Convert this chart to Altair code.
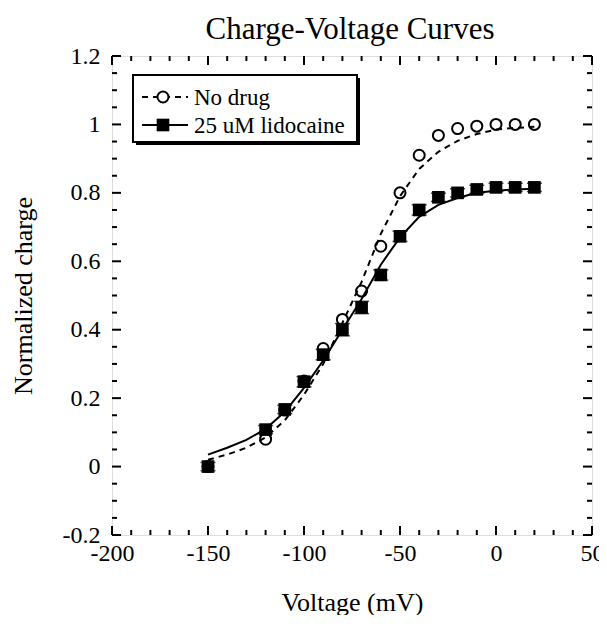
import altair as alt
import pandas as pd

# ---------------- data ----------------
voltage = [-150, -120, -110, -100, -90, -80, -70, -60, -50, -40, -30, -20, -10, 0, 10, 20]
q_no_drug = [0.0, 0.08, 0.165, 0.25, 0.345, 0.43, 0.513, 0.644, 0.80, 0.91, 0.968, 0.988, 0.995, 1.0, 1.0, 1.0]
q_lido = [0.0, 0.108, 0.167, 0.248, 0.327, 0.40, 0.465, 0.56, 0.673, 0.75, 0.787, 0.80, 0.81, 0.816, 0.816, 0.816]
q_lido_err = [0.012, 0.012, 0.012, 0.015, 0.015, 0.018, 0.018, 0.015, 0.015, 0.015, 0.012, 0.012, 0.012, 0.012, 0.012, 0.012]

fit_voltage = [-150, -140, -130, -120, -110, -100, -90, -80, -70, -60, -50, -40, -30, -20, -10, 0, 10, 20]
fit_no_drug = [0.02, 0.035, 0.055, 0.085, 0.135, 0.21, 0.30, 0.42, 0.54, 0.68, 0.79, 0.87, 0.92, 0.952, 0.972, 0.985, 0.99, 0.993]
fit_lido = [0.035, 0.055, 0.078, 0.11, 0.16, 0.23, 0.31, 0.40, 0.49, 0.59, 0.67, 0.73, 0.765, 0.785, 0.80, 0.806, 0.81, 0.812]

legend_labels = ["No drug", "25 uM lidocaine"]
title_text = "Charge-Voltage Curves"

x_major = [-200, -150, -100, -50, 0, 50]
x_minor = [-190, -180, -170, -160, -140, -130, -120, -110, -90, -80, -70, -60,
           -40, -30, -20, -10, 10, 20, 30, 40]
y_major = [-0.2, 0.0, 0.2, 0.4, 0.6, 0.8, 1.0, 1.2]
y_minor = [-0.15, -0.1, -0.05, 0.05, 0.1, 0.15, 0.25, 0.3, 0.35, 0.45, 0.5, 0.55,
           0.65, 0.7, 0.75, 0.85, 0.9, 0.95, 1.05, 1.1, 1.15]

FONT = "Liberation Serif"
W, H = 480, 479
MAJ, MIN = 9, 5

pts = pd.DataFrame({"V": voltage, "q0": q_no_drug, "q1": q_lido,
                    "lo": [a - e for a, e in zip(q_lido, q_lido_err)],
                    "hi": [a + e for a, e in zip(q_lido, q_lido_err)]})
fit = pd.DataFrame({"V": fit_voltage, "f0": fit_no_drug, "f1": fit_lido})

xs = alt.Scale(domain=[-200, 50], nice=False, zero=False)
ys = alt.Scale(domain=[-0.2, 1.2], nice=False, zero=False)

lab_expr = "datum.value < 0 ? '-' + format(-datum.value, '~g') : format(datum.value, '~g')"
xaxis = alt.Axis(values=x_major, title="Voltage (mV)", grid=False, domain=False, ticks=False,
                 labelFont=FONT, labelFontSize=24, labelColor="black", labelPadding=6,
                 labelExpr=lab_expr, labelFlush=False, labelOverlap=False,
                 titleFont=FONT, titleFontSize=26, titleFontWeight="normal", titleColor="black",
                 titlePadding=24)
yaxis = alt.Axis(values=y_major, title="Normalized charge", grid=False, domain=False, ticks=False,
                 labelFont=FONT, labelFontSize=24, labelColor="black", labelPadding=12,
                 labelExpr=lab_expr, labelFlush=False, labelOverlap=False,
                 titleFont=FONT, titleFontSize=26, titleFontWeight="normal", titleColor="black",
                 titlePadding=26)

X = lambda f: alt.X(f, type="quantitative", scale=xs, axis=xaxis)
Y = lambda f: alt.Y(f, type="quantitative", scale=ys, axis=yaxis)

line0 = alt.Chart(fit).mark_line(color="black", strokeWidth=2, strokeDash=[6, 5]).encode(x=X("V"), y=Y("f0"))
line1 = alt.Chart(fit).mark_line(color="black", strokeWidth=2).encode(x=X("V"), y=Y("f1"))
circ = alt.Chart(pts).mark_point(shape="circle", filled=False, color="black", strokeWidth=2,
                                 size=121, opacity=1).encode(x=X("V"), y=Y("q0"))
err = alt.Chart(pts).mark_errorbar(ticks=True, size=15, thickness=1.5, color="black").encode(
    x=X("V"), y=Y("lo"), y2="hi")
sq = alt.Chart(pts).mark_point(shape="square", filled=True, color="black", size=160,
                               opacity=1).encode(x=X("V"), y=Y("q1"))

# inward ticks on all four sides
def xt(vals, length, top):
    d = pd.DataFrame({"t": vals})
    if top:
        return alt.Chart(d).mark_rule(color="black", strokeWidth=2).encode(
            x=X("t"), y=alt.value(0), y2=alt.value(length))
    return alt.Chart(d).mark_rule(color="black", strokeWidth=2).encode(
        x=X("t"), y=alt.value(H), y2=alt.value(H - length))

def yt(vals, length, right):
    d = pd.DataFrame({"t": vals})
    if right:
        return alt.Chart(d).mark_rule(color="black", strokeWidth=2).encode(
            y=Y("t"), x=alt.value(W), x2=alt.value(W - length))
    return alt.Chart(d).mark_rule(color="black", strokeWidth=2).encode(
        y=Y("t"), x=alt.value(0), x2=alt.value(length))

ticks = [xt(x_major, MAJ, False), xt(x_minor, MIN, False), xt(x_major, MAJ, True), xt(x_minor, MIN, True),
         yt(y_major, MAJ, False), yt(y_minor, MIN, False), yt(y_major, MAJ, True), yt(y_minor, MIN, True)]

# legend (hand-drawn box like the original)
one = pd.DataFrame({"a": [0]})
shadow = alt.Chart(one).mark_rect(color="black").encode(
    x=alt.value(24), x2=alt.value(248), y=alt.value(22), y2=alt.value(89))
box = alt.Chart(one).mark_rect(fill="white", stroke="black", strokeWidth=2).encode(
    x=alt.value(21), x2=alt.value(245), y=alt.value(19), y2=alt.value(86))
r1, r2 = 41, 69
lg_l0 = alt.Chart(one).mark_rule(color="black", strokeWidth=2, strokeDash=[6, 5]).encode(
    x=alt.value(30), x2=alt.value(76), y=alt.value(r1))
lg_l1 = alt.Chart(one).mark_rule(color="black", strokeWidth=2).encode(
    x=alt.value(30), x2=alt.value(76), y=alt.value(r2))
lg_c = alt.Chart(one).mark_point(shape="circle", filled=True, fill="white", stroke="black",
                                 strokeWidth=2, size=121, opacity=1).encode(x=alt.value(51), y=alt.value(r1))
lg_s = alt.Chart(one).mark_point(shape="square", filled=True, color="black", size=160,
                                 opacity=1).encode(x=alt.value(51), y=alt.value(r2))
lg_t0 = alt.Chart(one).mark_text(font=FONT, fontSize=23, align="left", baseline="middle",
                                 color="black").encode(x=alt.value(82), y=alt.value(r1 + 1),
                                                       text=alt.value(legend_labels[0]))
lg_t1 = alt.Chart(one).mark_text(font=FONT, fontSize=23, align="left", baseline="middle",
                                 color="black").encode(x=alt.value(82), y=alt.value(r2 + 1),
                                                       text=alt.value(legend_labels[1]))

# chart title as a text mark above the plot area
ttl = alt.Chart(one).mark_text(font=FONT, fontSize=31, align="center", baseline="alphabetic",
                               color="black").encode(x=alt.value(W / 2 - 2), y=alt.value(-17),
                                                     text=alt.value(title_text))

chart = alt.layer(
    line0, line1, circ, err, sq, *ticks,
    shadow, box, lg_l0, lg_l1, lg_c, lg_s, lg_t0, lg_t1, ttl
).properties(
    width=W, height=H,
    autosize=alt.AutoSizeParams(type="none"),
    padding={"left": 104, "top": 48, "right": 7, "bottom": 80},
).configure_view(stroke="black", strokeWidth=2).configure(background="white")

chart.save("out.html", embed_options={"renderer": "svg", "actions": False})
